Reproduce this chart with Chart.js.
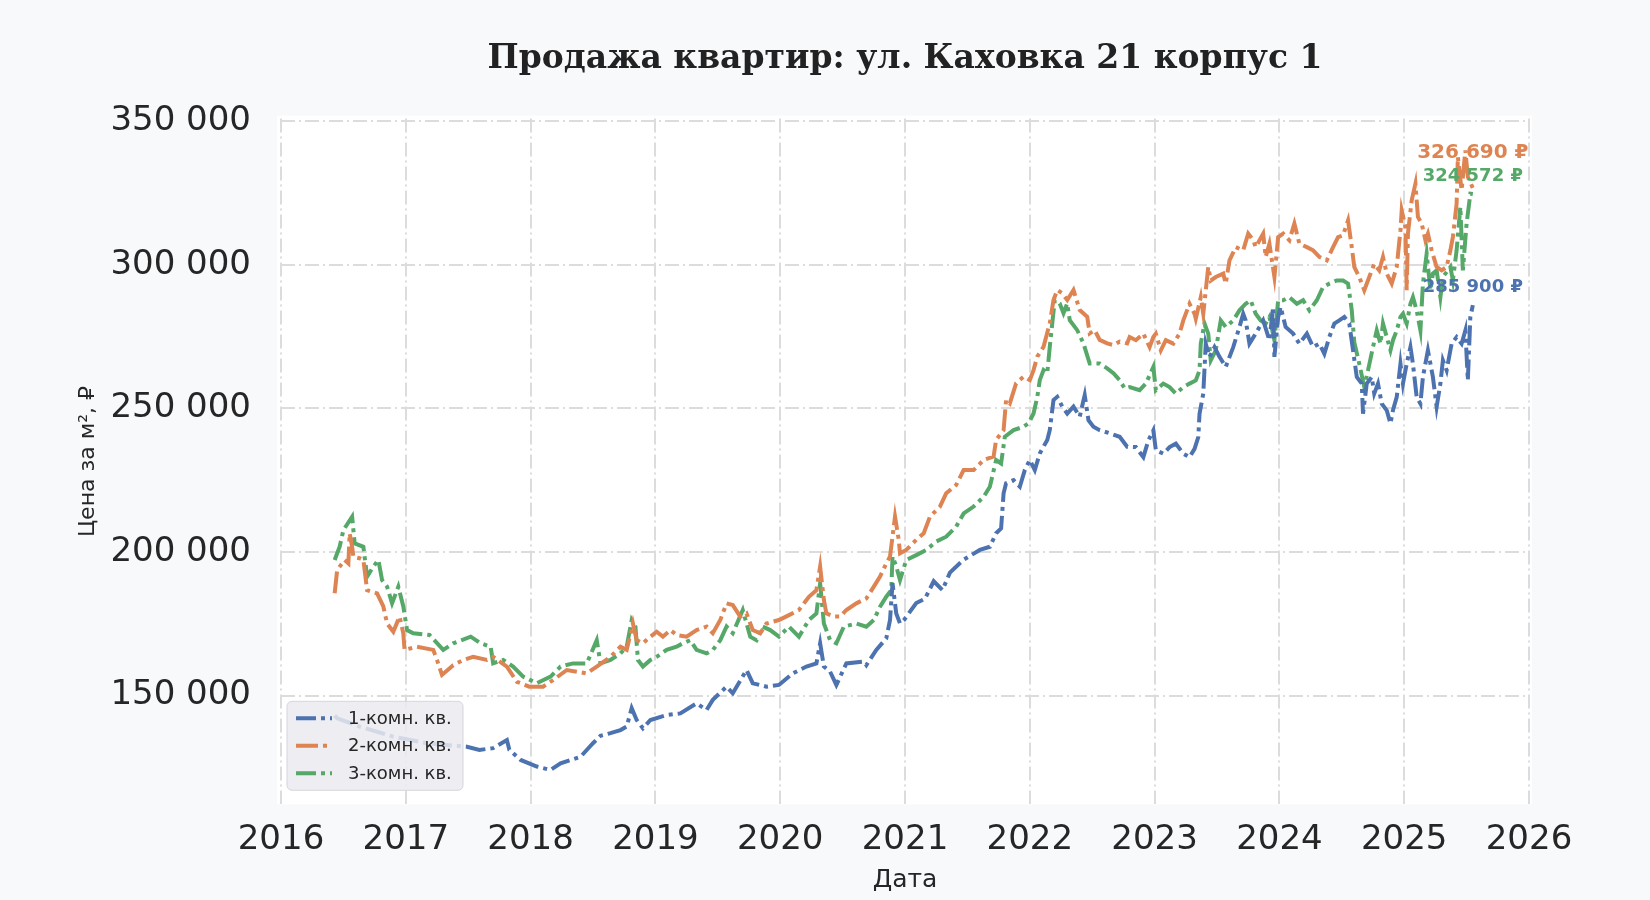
<!DOCTYPE html>
<html lang="ru">
<head>
<meta charset="utf-8">
<title>Продажа квартир: ул. Каховка 21 корпус 1</title>
<script src="https://cdn.jsdelivr.net/npm/chart.js@4.4.1/dist/chart.umd.min.js"></script>
<style>
	html, body { margin: 0; padding: 0; background: #f8f9fb; }
	#wrap { width: 1650px; height: 900px; }
</style>
</head>
<body>
<div id="wrap"><canvas id="priceChart" width="1650" height="900"></canvas></div>
<script>
// === Данные (дата в долях года, цена за м²) ===
const chartTitle = "Продажа квартир: ул. Каховка 21 корпус 1";
const seriesLabels = ["1-комн. кв.", "2-комн. кв.", "3-комн. кв."];
const yearTicks = [2016, 2017, 2018, 2019, 2020, 2021, 2022, 2023, 2024, 2025, 2026];
const priceTicks = [150000, 200000, 250000, 300000, 350000];

const oneRoomDates = [
	2016.43, 2016.45, 2016.63, 2016.90, 2017.17, 2017.49, 2017.59, 2017.70, 2017.81, 2017.83,
	2017.92, 2018.05, 2018.16, 2018.24, 2018.40, 2018.50, 2018.56, 2018.64, 2018.72, 2018.77,
	2018.81, 2018.85, 2018.90, 2018.96, 2019.09, 2019.20, 2019.33, 2019.41, 2019.46, 2019.57,
	2019.62, 2019.73, 2019.78, 2019.89, 2019.99, 2020.10, 2020.21, 2020.29, 2020.32, 2020.35,
	2020.40, 2020.45, 2020.53, 2020.67, 2020.69, 2020.77, 2020.85, 2020.88, 2020.90, 2020.93,
	2020.96, 2020.99, 2021.09, 2021.16, 2021.23, 2021.30, 2021.36, 2021.47, 2021.60, 2021.68,
	2021.73, 2021.77, 2021.79, 2021.81, 2021.87, 2021.92, 2021.96, 2022.00, 2022.04, 2022.08,
	2022.14, 2022.16, 2022.19, 2022.22, 2022.26, 2022.30, 2022.35, 2022.40, 2022.44, 2022.47,
	2022.51, 2022.56, 2022.64, 2022.72, 2022.78, 2022.85, 2022.91, 2022.95, 2022.99, 2023.01,
	2023.07, 2023.12, 2023.17, 2023.23, 2023.28, 2023.32, 2023.35, 2023.36, 2023.39, 2023.41,
	2023.44, 2023.48, 2023.52, 2023.57, 2023.63, 2023.68, 2023.71, 2023.73, 2023.76, 2023.81,
	2023.87, 2023.92, 2023.95, 2023.96, 2023.99, 2024.01, 2024.05, 2024.11, 2024.16, 2024.22,
	2024.27, 2024.32, 2024.36, 2024.40, 2024.44, 2024.48, 2024.52, 2024.56, 2024.59, 2024.62,
	2024.66, 2024.67, 2024.70, 2024.74, 2024.76, 2024.79, 2024.82, 2024.86, 2024.89, 2024.91,
	2024.94, 2024.97, 2024.99, 2025.02, 2025.05, 2025.07, 2025.10, 2025.13, 2025.15, 2025.19,
	2025.23, 2025.26, 2025.29, 2025.31, 2025.34, 2025.38, 2025.42, 2025.46, 2025.49, 2025.51,
	2025.53, 2025.55
];
const oneRoomPrices = [
	143000, 142100, 139200, 135700, 133400, 132200, 131100, 131700, 134500, 131100,
	127600, 125300, 124100, 126400, 128700, 133400, 136000, 136900, 138000, 139200,
	145600, 141500, 138600, 141500, 143200, 143800, 147300, 145000, 148500, 153100,
	150800, 158900, 154300, 153100, 153700, 157700, 160100, 161200, 168200, 160100,
	158300, 153700, 161200, 161800, 160600, 165900, 169900, 176300, 189100, 178600,
	175100, 176200, 182200, 183700, 189800, 186700, 192800, 197300, 200700, 201800,
	206500, 208200, 220400, 223900, 225000, 222700, 228500, 232000, 228500, 234300,
	239000, 242400, 252900, 254000, 250600, 248200, 250600, 247100, 254600, 245900,
	243600, 242400, 241300, 240100, 236600, 236500, 233000, 238800, 242300, 235400,
	234200, 236500, 237700, 234200, 233000, 235900, 240000, 248100, 255100, 272500,
	267900, 271300, 267900, 264400, 271300, 278300, 282900, 280600, 272500, 276000,
	280600, 273700, 285300, 267900, 281800, 285300, 278300, 276000, 272500, 276000,
	271300, 272500, 269000, 274800, 279500, 280600, 281800, 279500, 270200, 260900,
	258600, 248100, 258600, 260900, 255100, 258600, 251600, 249300, 244700, 249300,
	253900, 265500, 258600, 265500, 271300, 265500, 253900, 251600, 260900, 270200,
	260900, 250500, 258600, 266700, 263200, 272500, 274800, 272500, 277100, 259700,
	281800, 285900
];

const twoRoomDates = [
	2016.43, 2016.45, 2016.51, 2016.54, 2016.55, 2016.57, 2016.58, 2016.63, 2016.66, 2016.69,
	2016.77, 2016.82, 2016.85, 2016.90, 2016.95, 2016.98, 2016.99, 2017.09, 2017.22, 2017.25,
	2017.29, 2017.38, 2017.46, 2017.54, 2017.65, 2017.70, 2017.81, 2017.89, 2017.99, 2018.10,
	2018.18, 2018.29, 2018.45, 2018.53, 2018.64, 2018.72, 2018.77, 2018.82, 2018.85, 2018.90,
	2018.96, 2019.01, 2019.06, 2019.12, 2019.17, 2019.25, 2019.33, 2019.41, 2019.46, 2019.52,
	2019.57, 2019.62, 2019.68, 2019.73, 2019.78, 2019.84, 2019.89, 2019.99, 2020.07, 2020.15,
	2020.23, 2020.29, 2020.32, 2020.35, 2020.37, 2020.43, 2020.48, 2020.53, 2020.61, 2020.69,
	2020.75, 2020.80, 2020.85, 2020.88, 2020.92, 2020.95, 2020.96, 2021.01, 2021.09, 2021.15,
	2021.20, 2021.28, 2021.33, 2021.41, 2021.47, 2021.55, 2021.63, 2021.71, 2021.73, 2021.79,
	2021.81, 2021.84, 2021.89, 2021.95, 2022.00, 2022.03, 2022.06, 2022.11, 2022.16, 2022.19,
	2022.22, 2022.26, 2022.30, 2022.35, 2022.40, 2022.46, 2022.48, 2022.52, 2022.56, 2022.62,
	2022.67, 2022.72, 2022.78, 2022.80, 2022.85, 2022.91, 2022.96, 2022.99, 2023.01, 2023.05,
	2023.09, 2023.15, 2023.20, 2023.23, 2023.28, 2023.32, 2023.33, 2023.37, 2023.39, 2023.43,
	2023.45, 2023.49, 2023.55, 2023.57, 2023.60, 2023.65, 2023.71, 2023.75, 2023.79, 2023.81,
	2023.87, 2023.89, 2023.92, 2023.96, 2023.99, 2024.03, 2024.08, 2024.12, 2024.16, 2024.22,
	2024.27, 2024.32, 2024.38, 2024.43, 2024.47, 2024.51, 2024.55, 2024.58, 2024.60, 2024.64,
	2024.68, 2024.72, 2024.76, 2024.80, 2024.83, 2024.86, 2024.90, 2024.94, 2024.97, 2024.98,
	2025.01, 2025.02, 2025.03, 2025.06, 2025.09, 2025.11, 2025.14, 2025.17, 2025.19, 2025.22,
	2025.26, 2025.30, 2025.34, 2025.37, 2025.39, 2025.42, 2025.43, 2025.46, 2025.49, 2025.51,
	2025.55
];
const twoRoomPrices = [
	185600, 193700, 197200, 196000, 206500, 201800, 198300, 197800, 197200, 186700,
	185600, 181000, 175100, 172200, 177500, 171700, 165900, 167000, 165900, 162400,
	157200, 160600, 162400, 163500, 162400, 163500, 160100, 154800, 153100, 153100,
	155400, 158900, 157700, 160100, 163500, 167000, 165900, 175100, 169300, 168200,
	170500, 172200, 170500, 172800, 171100, 170500, 172800, 174000, 171700, 176300,
	182100, 181500, 177500, 178600, 172800, 171700, 175100, 176300, 178000, 179800,
	184400, 186700, 194900, 183300, 178600, 177500, 177500, 179800, 182100, 183800,
	187900, 191400, 196000, 198400, 212300, 204200, 199500, 200700, 204200, 206500,
	212300, 215800, 220400, 223300, 228500, 228500, 232000, 233200, 239000, 242400,
	252900, 251700, 258700, 261000, 259800, 263300, 268000, 271400, 279600, 287700,
	291200, 290000, 287700, 291200, 284200, 281900, 276100, 277200, 273800, 272600,
	272000, 273200, 272600, 274800, 273700, 276000, 271300, 274800, 276000, 270200,
	273700, 272500, 276000, 280600, 286400, 282900, 281200, 288700, 282900, 299200,
	294500, 295700, 296900, 293400, 301500, 306100, 305000, 310800, 308500, 306100,
	310800, 302700, 307300, 295700, 309600, 310800, 308500, 314300, 307300, 306100,
	305000, 302700, 301500, 306100, 309600, 310200, 315400, 306100, 299200, 295700,
	291100, 295700, 300300, 298000, 302700, 296900, 293400, 299200, 311900, 318900,
	313100, 291100, 310800, 322400, 328200, 316600, 314300, 308500, 310800, 305000,
	299200, 298000, 299200, 305000, 309600, 321200, 337500, 325900, 339800, 330500,
	326690
];

const threeRoomDates = [
	2016.43, 2016.47, 2016.50, 2016.57, 2016.59, 2016.66, 2016.69, 2016.74, 2016.78, 2016.81,
	2016.85, 2016.89, 2016.94, 2016.98, 2017.01, 2017.06, 2017.19, 2017.30, 2017.38, 2017.52,
	2017.60, 2017.68, 2017.70, 2017.78, 2017.86, 2017.94, 2018.05, 2018.16, 2018.24, 2018.34,
	2018.45, 2018.53, 2018.56, 2018.64, 2018.72, 2018.77, 2018.81, 2018.84, 2018.86, 2018.90,
	2018.96, 2019.01, 2019.09, 2019.17, 2019.22, 2019.28, 2019.33, 2019.41, 2019.46, 2019.52,
	2019.57, 2019.62, 2019.70, 2019.76, 2019.81, 2019.86, 2019.92, 2019.99, 2020.07, 2020.15,
	2020.23, 2020.29, 2020.32, 2020.35, 2020.40, 2020.45, 2020.51, 2020.61, 2020.69, 2020.75,
	2020.80, 2020.85, 2020.89, 2020.90, 2020.93, 2020.96, 2021.01, 2021.09, 2021.17, 2021.25,
	2021.33, 2021.41, 2021.47, 2021.55, 2021.63, 2021.68, 2021.73, 2021.77, 2021.80, 2021.87,
	2021.95, 2021.99, 2022.03, 2022.06, 2022.08, 2022.11, 2022.14, 2022.16, 2022.18, 2022.20,
	2022.24, 2022.27, 2022.30, 2022.32, 2022.38, 2022.43, 2022.48, 2022.56, 2022.62, 2022.67,
	2022.72, 2022.76, 2022.80, 2022.88, 2022.93, 2022.99, 2023.01, 2023.07, 2023.12, 2023.17,
	2023.23, 2023.28, 2023.33, 2023.36, 2023.37, 2023.40, 2023.43, 2023.45, 2023.49, 2023.53,
	2023.57, 2023.63, 2023.68, 2023.73, 2023.77, 2023.81, 2023.85, 2023.89, 2023.92, 2023.96,
	2023.99, 2024.03, 2024.08, 2024.14, 2024.19, 2024.24, 2024.30, 2024.35, 2024.40, 2024.46,
	2024.51, 2024.55, 2024.58, 2024.60, 2024.64, 2024.68, 2024.71, 2024.75, 2024.78, 2024.81,
	2024.83, 2024.86, 2024.89, 2024.91, 2024.94, 2024.97, 2024.99, 2025.02, 2025.05, 2025.07,
	2025.10, 2025.13, 2025.15, 2025.18, 2025.21, 2025.23, 2025.26, 2025.29, 2025.31, 2025.37,
	2025.39, 2025.42, 2025.45, 2025.47, 2025.50, 2025.53, 2025.55
];
const threeRoomPrices = [
	197200, 201800, 207600, 212300, 203000, 201800, 191400, 194900, 197200, 190200,
	187900, 182100, 187900, 181000, 172800, 171700, 171100, 165900, 168200, 170500,
	168200, 167000, 161200, 162400, 160100, 156600, 154300, 156600, 160100, 161200,
	161200, 169300, 161200, 162400, 164700, 167000, 176300, 174000, 162400, 160100,
	162400, 163500, 165900, 167000, 168200, 169300, 165900, 164700, 165900, 169300,
	174000, 171700, 179800, 170500, 169300, 174000, 172800, 170500, 174000, 170500,
	176300, 178600, 189100, 175100, 169300, 168200, 174000, 175100, 174000, 176300,
	180900, 184400, 186700, 198400, 194900, 190200, 197200, 198900, 200700, 203600,
	205300, 208800, 213400, 215800, 219200, 222700, 232000, 230800, 240100, 242400,
	243600, 244800, 248200, 254000, 259800, 263300, 262200, 271400, 279600, 287700,
	286500, 283100, 286500, 280700, 277200, 272600, 265600, 265600, 263900, 262200,
	259800, 256900, 257400, 256300, 258600, 264400, 256300, 258600, 257400, 255100,
	257400, 258600, 259700, 263200, 272500, 279500, 276000, 266700, 270200, 280600,
	278300, 280600, 284100, 286400, 287600, 282900, 280600, 279500, 281800, 273700,
	287600, 287600, 288700, 286400, 287600, 284100, 287600, 292200, 293400, 294500,
	294500, 293400, 284100, 273000, 265500, 257400, 263200, 271300, 277100, 272500,
	279500, 274800, 270200, 273700, 277100, 281800, 282900, 279500, 286400, 288700,
	284100, 277100, 293400, 303800, 291100, 296900, 298000, 288700, 295700, 299200,
	294500, 305000, 320100, 298000, 314300, 324700, 324572
];

// === Стиль ===
const lineColors = ["#4C72B0", "#DD8452", "#55A868"];
const lineDashes = [[20, 5, 4, 5], [22, 5, 4, 5], [20, 5, 4, 5]];
const endLabelSizes = [18, 20, 18];
const textColor = "#262626";

function toPoints(dates, prices) {
	return dates.map((d, i) => ({ x: d, y: prices[i] }));
}

function fmtThousands(v) {
	return String(Math.round(v)).replace(/\B(?=(\d{3})+(?!\d))/g, " ");
}

// === Плагин: фон и заголовок по центру области графика ===
const plotBackground = {
	id: "plotBackground",
	beforeDraw(chart) {
		const { ctx, chartArea: a } = chart;
		ctx.save();
		ctx.fillStyle = "#f8f9fb";
		ctx.fillRect(0, 0, chart.width, chart.height);
		ctx.fillStyle = "#ffffff";
		ctx.fillRect(a.left - 4, a.top - 3, a.right - a.left + 7, a.bottom - a.top + 3);

		ctx.font = "bold 33px 'DejaVu Serif'";
		ctx.fillStyle = "#222222";
		ctx.textAlign = "center";
		ctx.textBaseline = "middle";
		ctx.fillText(chartTitle, (a.left + a.right) / 2, 59);
		ctx.restore();
	},
};

// === Плагин: подписи последних значений ===
const endLabels = {
	id: "endLabels",
	afterDatasetsDraw(chart) {
		const ctx = chart.ctx;
		const items = chart.data.datasets.map((ds, i) => {
			const pts = chart.getDatasetMeta(i).data;
			const last = pts[pts.length - 1];
			return {
				x: last.x,
				y: last.y - 18,
				color: ds.borderColor,
				size: endLabelSizes[i],
				text: fmtThousands(ds.data[ds.data.length - 1].y) + " ₽",
			};
		});
		// раздвигаем, чтобы не налезали
		items.sort((a, b) => b.y - a.y);
		for (let i = 1; i < items.length; i++) {
			if (items[i - 1].y - items[i].y < 23) items[i].y = items[i - 1].y - 23;
		}
		ctx.save();
		ctx.textAlign = "center";
		ctx.textBaseline = "middle";
		items.forEach((it) => {
			ctx.font = "bold " + it.size + "px 'DejaVu Sans'";
			ctx.fillStyle = it.color;
			ctx.fillText(it.text, it.x, it.y);
		});
		ctx.restore();
	},
};

// === Плагин: легенда в левом нижнем углу ===
const cornerLegend = {
	id: "cornerLegend",
	afterDatasetsDraw(chart) {
		const ctx = chart.ctx;
		const a = chart.chartArea;
		const x0 = a.left + 6, y0 = a.bottom - 103, w = 176, h = 89;
		ctx.save();
		ctx.beginPath();
		ctx.roundRect(x0, y0, w, h, 5);
		ctx.fillStyle = "rgba(234, 234, 240, 0.85)";
		ctx.fill();
		ctx.strokeStyle = "rgba(210, 210, 218, 0.9)";
		ctx.lineWidth = 1;
		ctx.stroke();

		ctx.font = "18px 'DejaVu Sans'";
		ctx.textBaseline = "middle";
		chart.data.datasets.forEach((ds, i) => {
			const ry = y0 + 17 + i * 27.5;
			ctx.beginPath();
			ctx.setLineDash(ds.borderDash);
			ctx.strokeStyle = ds.borderColor;
			ctx.lineWidth = 4;
			ctx.moveTo(x0 + 9, ry);
			ctx.lineTo(x0 + 45, ry);
			ctx.stroke();
			ctx.setLineDash([]);
			ctx.fillStyle = textColor;
			ctx.fillText(ds.label, x0 + 61, ry + 1);
		});
		ctx.restore();
	},
};

// === Наборы данных ===
const seriesPoints = [
	toPoints(oneRoomDates, oneRoomPrices),
	toPoints(twoRoomDates, twoRoomPrices),
	toPoints(threeRoomDates, threeRoomPrices),
];

const datasets = seriesLabels.map((label, i) => ({
	label: label,
	data: seriesPoints[i],
	borderColor: lineColors[i],
	backgroundColor: lineColors[i],
	borderWidth: 4,
	borderDash: lineDashes[i],
	pointRadius: 0,
	tension: 0,
	fill: false,
}));

Chart.defaults.font.family = "'DejaVu Sans'";
Chart.defaults.color = textColor;

new Chart(document.getElementById("priceChart"), {
	type: "line",
	data: { datasets: datasets },
	plugins: [plotBackground, endLabels, cornerLegend],
	options: {
		responsive: false,
		maintainAspectRatio: false,
		devicePixelRatio: 1,
		animation: false,
		layout: { padding: { left: 0, top: 118.6, right: 121, bottom: 0 } },
		plugins: {
			legend: { display: false },
			tooltip: { enabled: false },
			title: { display: false },
		},
		scales: {
			x: {
				type: "linear",
				min: 2016,
				max: 2026,
				afterBuildTicks: (axis) => {
					axis.ticks = yearTicks.map((v) => ({ value: v }));
				},
				afterFit: (scale) => {
					scale.height = 95.7;
				},
				ticks: {
					callback: (v) => String(v),
					font: { size: 34 },
					color: textColor,
					padding: 15,
					maxRotation: 0,
					autoSkip: false,
				},
				grid: { color: "#dcdcdc", lineWidth: 2, drawTicks: false },
				border: { display: false, dash: [14, 4, 2, 4] },
				title: {
					display: true,
					text: "Дата",
					color: textColor,
					font: { size: 25, lineHeight: 1.2 },
					padding: { top: 0, bottom: 5 },
				},
			},
			y: {
				type: "linear",
				min: 112150,
				max: 350850,
				afterBuildTicks: (axis) => {
					axis.ticks = priceTicks.map((v) => ({ value: v }));
				},
				afterFit: (scale) => {
					scale.width = 281;
				},
				ticks: {
					callback: (v) => fmtThousands(v),
					font: { size: 34 },
					color: textColor,
					padding: 30,
				},
				grid: { color: "#dcdcdc", lineWidth: 2, drawTicks: false },
				border: { display: false, dash: [14, 4, 2, 4] },
				title: {
					display: true,
					text: "Цена за м², ₽",
					color: textColor,
					font: { size: 22, lineHeight: 1.2 },
					padding: { top: 75, bottom: 0 },
				},
			},
		},
	},
});
</script>
</body>
</html>
